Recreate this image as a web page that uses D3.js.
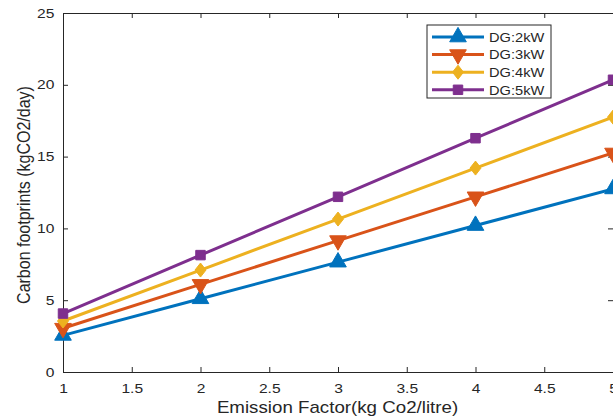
<!DOCTYPE html>
<html>
<head>
<meta charset="utf-8">
<script src="https://cdn.jsdelivr.net/npm/d3@7"></script>
<style>
  body { margin: 0; background: #fff; }
  text { font-family: "Liberation Sans", Arial, sans-serif; fill: #262626; }
</style>
</head>
<body>
<script>
// data
const factors = [1, 2, 3, 4, 5];
const dg2 = [2.55, 5.1, 7.65, 10.2, 12.75];
const dg3 = [3.05, 6.1, 9.15, 12.2, 15.25];
const dg4 = [3.55, 7.1, 10.65, 14.2, 17.75];
const dg5 = [4.07, 8.14, 12.2, 16.28, 20.35];
const seriesNames = ["DG:2kW", "DG:3kW", "DG:4kW", "DG:5kW"];
const xTicks = [1, 1.5, 2, 2.5, 3, 3.5, 4, 4.5, 5];
const yTicks = [0, 5, 10, 15, 20, 25];

const series = [
  { name: seriesNames[0], values: dg2, color: "#0072BD", marker: "up" },
  { name: seriesNames[1], values: dg3, color: "#D95319", marker: "down" },
  { name: seriesNames[2], values: dg4, color: "#EDB120", marker: "diamond" },
  { name: seriesNames[3], values: dg5, color: "#7E2F8E", marker: "square" },
];

const W = 613, H = 419;
const margin = { top: 13, right: 0, bottom: 47, left: 63 };
const width = W - margin.left - margin.right;
const height = H - margin.top - margin.bottom;

// the source picture is a little wider than tall, text looks stretched
const stretch = 1.2;

const svg = d3.select("body").append("svg")
  .attr("width", W)
  .attr("height", H);

const g = svg.append("g")
  .attr("transform", "translate(" + margin.left + "," + margin.top + ")");

const x = d3.scaleLinear().domain([1, 5]).range([0, width]);
const y = d3.scaleLinear().domain([0, 25]).range([height, 0]);

// axes, matlab style: ticks inward, box on
const axisColor = "#262626";
function styleAxis(sel) {
  sel.select(".domain").attr("stroke", axisColor).attr("stroke-width", 1);
  sel.selectAll(".tick line").attr("stroke", axisColor);
  sel.selectAll(".tick text")
    .style("font-size", "13px")
    .attr("fill", axisColor)
    .attr("transform", "scale(" + stretch + ",1)");
}

g.append("g")
  .attr("transform", "translate(0," + height + ")")
  .call(d3.axisBottom(x).tickValues(xTicks).tickFormat(d3.format("~g"))
    .tickSize(-5).tickPadding(11.5).tickSizeOuter(0))
  .call(styleAxis);

g.append("g")
  .call(d3.axisTop(x).tickValues(xTicks).tickSize(-5).tickFormat("").tickSizeOuter(0))
  .call(styleAxis);

g.append("g")
  .call(d3.axisLeft(y).tickValues(yTicks).tickSize(-5).tickPadding(7.2).tickSizeOuter(0))
  .call(styleAxis);

g.append("g")
  .attr("transform", "translate(" + width + ",0)")
  .call(d3.axisRight(y).tickValues(yTicks).tickSize(-5).tickFormat("").tickSizeOuter(0))
  .call(styleAxis);

// axis titles
svg.append("text")
  .attr("transform", "translate(337.5,413) scale(1.17,1)")
  .attr("text-anchor", "middle")
  .style("font-size", "16px")
  .text("Emission Factor(kg Co2/litre)");

svg.append("text")
  .attr("transform", "translate(30,195) rotate(-90) scale(1,1.17)")
  .attr("text-anchor", "middle")
  .style("font-size", "16px")
  .text("Carbon footprints (kgCO2/day)");

// marker shapes
function markerPath(type) {
  if (type === "up" || type === "down") return d3.symbol(d3.symbolTriangle, 120)();
  if (type === "diamond") return "M0,-7L5.5,0L0,7L-5.5,0Z";
  return d3.symbol(d3.symbolSquare, 90)();
}
function markerRotate(type) {
  return type === "down" ? " rotate(180)" : "";
}

const line = d3.line()
  .x((d, i) => x(factors[i]))
  .y(d => y(d));

series.forEach(s => {
  g.append("path")
    .datum(s.values)
    .attr("fill", "none")
    .attr("stroke", s.color)
    .attr("stroke-width", 3)
    .attr("d", line);

  g.selectAll(null)
    .data(s.values)
    .enter()
    .append("path")
    .attr("d", markerPath(s.marker))
    .attr("transform", (d, i) => "translate(" + x(factors[i]) + "," + y(d) + ")" + markerRotate(s.marker))
    .attr("fill", s.color)
    .attr("stroke", s.color)
    .attr("stroke-width", 1);
});

// legend
const legend = svg.append("g").attr("transform", "translate(427,25)");
legend.append("rect")
  .attr("width", 124)
  .attr("height", 73)
  .attr("fill", "#fff")
  .attr("stroke", axisColor)
  .attr("stroke-width", 1);

series.forEach((s, i) => {
  const row = legend.append("g").attr("transform", "translate(0," + (12 + i * 17.6) + ")");
  row.append("line")
    .attr("x1", 5).attr("x2", 57)
    .attr("stroke", s.color)
    .attr("stroke-width", 3);
  row.append("path")
    .attr("d", markerPath(s.marker))
    .attr("transform", "translate(31,0)" + markerRotate(s.marker))
    .attr("fill", s.color)
    .attr("stroke", s.color);
  row.append("text")
    .attr("transform", "translate(62,4.7) scale(1.22,1)")
    .style("font-size", "12px")
    .text(s.name);
});
</script>
</body>
</html>
